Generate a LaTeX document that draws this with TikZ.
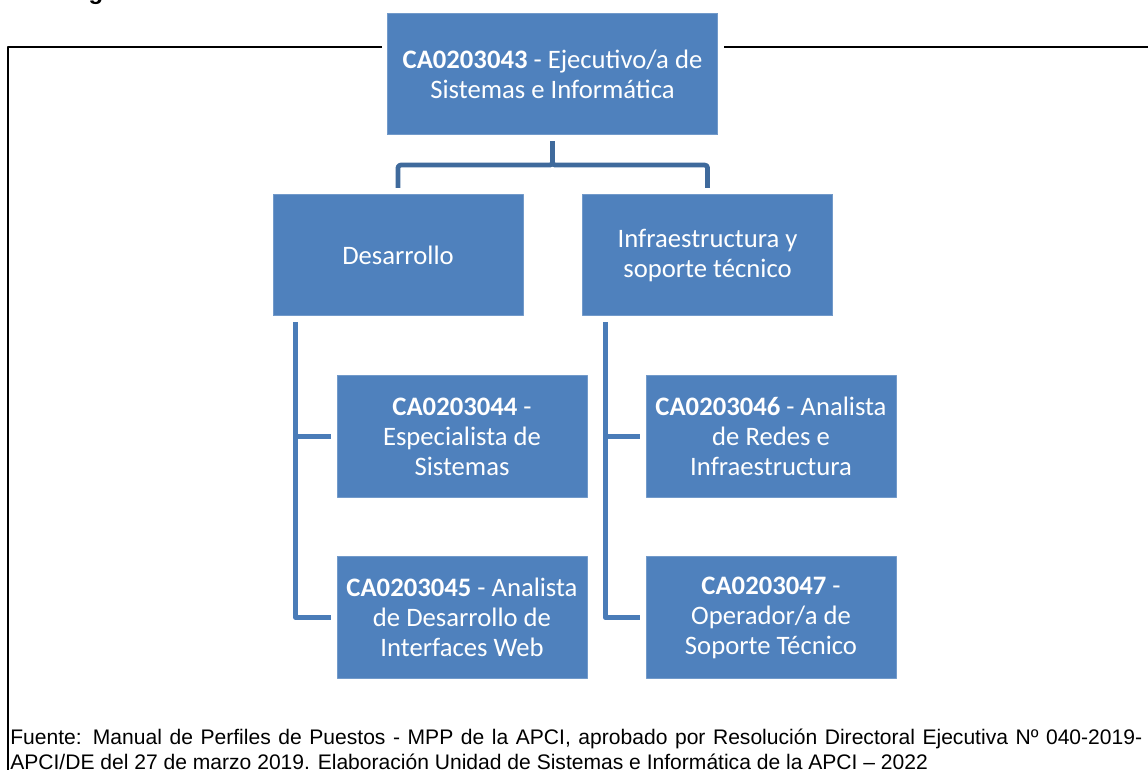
\documentclass[tikz,border=0pt]{standalone}
\usepackage{fontspec}
\setmainfont{Carlito}
\newfontfamily\arialfont{Liberation Sans}
\usetikzlibrary{calc}
\definecolor{boxblue}{HTML}{4F81BD}
\definecolor{trunkblue}{HTML}{3F6A9C}
\definecolor{branchblue}{HTML}{4A7CB8}
\begin{document}
\begin{tikzpicture}[x=0.75pt,y=-0.75pt,line join=round,
  puesto/.style={draw=boxblue!80!white,line width=0.6pt,fill=boxblue,text=white,
    minimum width=187.5pt,minimum height=91pt,align=center,inner sep=2pt,
    font=\fontsize{20}{22.5}\selectfont},
  trunk/.style={draw=trunkblue,line width=3.6pt,rounded corners=2pt},
  branch/.style={draw=branchblue,line width=3.6pt},
  frame/.style={draw=black,line width=1.5pt}]
\useasboundingbox (0,0) rectangle (1148,769);
\def \gap{6};
% boxes
\node[puesto,minimum width=248pt] (top) at (552.5,74) {\textbf{CA0203043} - Ejecutivo/a de\\Sistemas e Informática};
\node[puesto] (dev) at (398,255) {Desarrollo};
\node[puesto] (infra) at (707.5,255) {Infraestructura y\\soporte técnico};
\node[puesto] (dev1) at (462,436.5) {\textbf{CA0203044} -\\Especialista de\\Sistemas};
\node[puesto] (dev2) at (462,617.5) {\textbf{CA0203045} - Analista\\de Desarrollo de\\Interfaces Web};
\node[puesto] (inf1) at (771,436.5) {\textbf{CA0203046} - Analista\\de Redes e\\Infraestructura};
\node[puesto] (inf2) at (771,617.5) {\textbf{CA0203047} -\\Operador/a de\\Soporte Técnico};
% connectors
\foreach \n in {dev,infra}{\draw[trunk] ($(top.south)+(0,\gap)$) -- ($(top.south)+(0,30)$) -| ($(\n.north)+(0,-\gap)$);}
\foreach \p/\c in {dev/dev1,dev/dev2,infra/inf1,infra/inf2}{\draw[branch] ($(\p.south west)+(23,\gap)$) |- ($(\c.west)+(-\gap,0)$);}
% frame and source
\draw[frame] (382,47) -- (8,47) -- (8,780);
\draw[frame] (724,47) -- (1160,47);
\node[anchor=base,font=\arialfont\bfseries\fontsize{18}{20}\selectfont] (titulo) at (96,-1) {g};
\node[anchor=north west,inner sep=0pt,text width=849pt,align=justify,font=\arialfont\fontsize{15.8}{18.75}\selectfont] (fuente) at (10,729)
  {Fuente: Manual de Perfiles de Puestos - MPP de la APCI, aprobado por Resolución Directoral Ejecutiva Nº 040-2019-\linebreak APCI/DE del 27 de marzo 2019. Elaboración Unidad de Sistemas e Informática de la APCI – 2022};
\end{tikzpicture}
\end{document}
